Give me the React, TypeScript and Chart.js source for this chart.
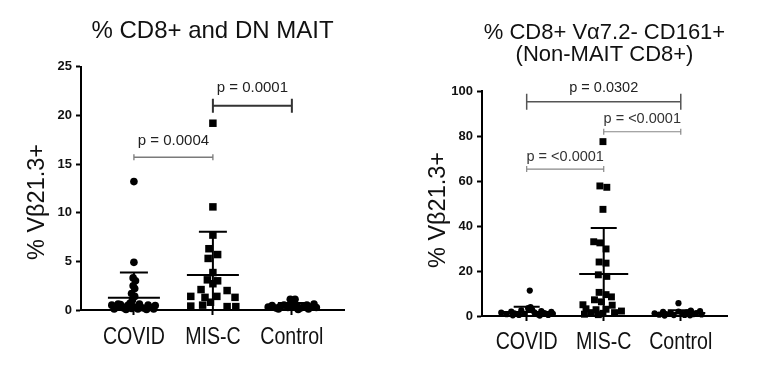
import React, { useEffect, useRef } from "react";
import { Chart, registerables } from "chart.js";
Chart.register(...registerables);

// ---------------- shared ----------------
const categories = ["COVID", "MIS-C", "Control"];
const yAxisTitle = "% V\u03B221.3+";

// ---------------- left panel data ----------------
const leftTitle = "% CD8+ and DN MAIT";
const leftYMax = 25;
const leftYStep = 5;

const leftCovid = [13.2, 4.9, 3.3, 3.0, 2.5, 2.2, 1.7, 1.4, 1.0, 0.7, 0.5, 0.3, 0.55, 0.2, 0.45, 0.15, 0.3, 0.6, 0.2, 0.5, 0.25, 0.45, 0.1, 0.05, 0.1, 0.05, 0.1, 0.6];
const leftCovidJitter = [0, 0, -0.01, 0.02, -0.01, 0.01, -0.03, 0.01, -0.02, -0.05, -0.28, -0.22, -0.17, -0.13, -0.08, -0.03, 0.03, 0.07, 0.12, 0.18, 0.23, 0.27, -0.25, -0.1, 0.05, 0.16, 0.25, -0.2];

const leftMisc = [19.2, 10.6, 7.7, 6.3, 5.7, 5.3, 3.85, 3.1, 3.0, 2.7, 2.1, 2.0, 1.4, 1.3, 1.4, 1.3, 0.8, 0.4, 0.5, 0.35, 0.35];
const leftMiscJitter = [0, 0, 0, -0.05, 0.06, -0.06, 0, -0.07, 0.06, 0, -0.15, 0.18, -0.28, -0.1, 0.05, 0.28, -0.03, -0.28, -0.13, 0.18, 0.29];

const leftControl = [0.3, 0.45, 0.2, 0.35, 0.5, 0.25, 1.1, 1.1, 0.7, 0.3, 0.45, 0.2, 0.35, 0.5, 0.3, 0.6, 0.25, 0.1, 0.05, 0.1];
const leftControlJitter = [-0.3, -0.25, -0.2, -0.15, -0.1, -0.05, -0.02, 0.04, 0, 0.01, 0.06, 0.11, 0.15, 0.19, 0.24, 0.28, 0.31, -0.17, 0.08, 0.21];

const leftMeans = [1.25, 3.6, 0.42];
const leftSDs = [2.6, 4.45, 0.3];

const leftBracketFrom = [0, 1];
const leftBracketTo = [1, 2];
const leftBracketY = [15.7, 21.0];
const leftBracketText = ["p = 0.0004", "p = 0.0001"];

// ---------------- right panel data ----------------
const rightTitle = ["% CD8+ V\u03B17.2- CD161+", "(Non-MAIT CD8+)"];
const rightYMax = 100;
const rightYStep = 20;

const rightCovid = [11.3, 1.5, 0.8, 2.0, 1.2, 0.5, 2.5, 1.0, 3.5, 4.0, 2.8, 1.6, 0.7, 2.2, 1.3, 0.5, 1.8, 0.3, 0.2, 1.0];
const rightCovidJitter = [0.04, -0.33, -0.26, -0.2, -0.16, -0.1, -0.07, -0.03, 0.02, 0.05, 0.07, 0.1, 0.15, 0.19, 0.23, 0.28, 0.32, -0.18, 0.17, 0.34];

const rightMisc = [77.5, 57.8, 57.2, 47.4, 33.0, 32.5, 29.8, 24.0, 23.5, 18.3, 17.6, 10.5, 9.5, 8.5, 7.2, 6.3, 5.0, 4.8, 3.2, 2.8, 3.0, 2.2, 1.5, 1.2, 1.5, 0.6, 0.8];
const rightMiscJitter = [-0.01, -0.05, 0.04, -0.01, -0.13, -0.05, 0.03, -0.06, 0.03, -0.07, 0.04, -0.06, 0.03, 0.1, -0.12, -0.03, -0.27, 0.11, -0.23, -0.1, 0.03, 0.23, -0.16, -0.01, 0.14, -0.07, -0.25];

const rightControl = [5.7, 1.2, 0.6, 1.8, 0.9, 1.4, 0.4, 2.0, 1.0, 0.5, 1.6, 2.4, 0.8, 1.3, 2.2, 0.7, 0.2, 0.3];
const rightControlJitter = [-0.03, -0.34, -0.28, -0.23, -0.19, -0.13, -0.09, -0.03, 0.02, 0.05, 0.08, 0.13, 0.16, 0.2, 0.25, 0.27, -0.21, 0.12];

const rightMeans = [1.8, 18.7, 1.3];
const rightSDs = [2.3, 20.4, 1.3];

const rightBracketFrom = [0, 1, 0];
const rightBracketTo = [2, 2, 1];
const rightBracketY = [95.2, 81.9, 65.3];
const rightBracketText = ["p = 0.0302", "p = <0.0001", "p = <0.0001"];

// ---------------- drawing ----------------
const SANS = "'Liberation Sans', Arial, Helvetica, sans-serif";

type BracketStyle = { color: string; width: number; tick: number; gap: number; font: number; textColor: string };

type Panel = {
  title: string | string[];
  titleSize: number;
  titleLineHeight: number;
  titlePadTop: number;
  titlePadBottom: number;
  yMax: number;
  yStep: number;
  xMin: number;
  xMax: number;
  yWidth: number;
  xHeight: number;
  padRight: number;
  xLabelOffset: number;
  groups: { values: number[]; jitter: number[] }[];
  means: number[];
  sds: number[];
  meanHalf: number;
  capHalf: number;
  circleR: number;
  squareR: number;
  brackets: { from: number; to: number; y: number; label: string }[];
  bracketStyles: BracketStyle[];
  yTitleX: number;
  yTitleY: number;
};

function makeBrackets(from: number[], to: number[], y: number[], text: string[]) {
  return from.map((f, i) => ({ from: f, to: to[i], y: y[i], label: text[i] }));
}

function buildChart(canvas: HTMLCanvasElement, p: Panel) {
  const annot = {
    id: "annot",
    afterDatasetsDraw(chart: any) {
      const ctx = chart.ctx as CanvasRenderingContext2D;
      const xs = chart.scales.x;
      const ys = chart.scales.y;
      const area = chart.chartArea;
      // mean +/- SD
      ctx.save();
      ctx.beginPath();
      ctx.rect(area.left - 40, area.top - 40, area.right - area.left + 80, area.bottom - area.top + 40);
      ctx.clip();
      ctx.strokeStyle = "#000";
      ctx.lineWidth = 2;
      p.means.forEach((m, i) => {
        const cx = xs.getPixelForValue(i);
        const ym = ys.getPixelForValue(m);
        const yt = ys.getPixelForValue(m + p.sds[i]);
        const yb = ys.getPixelForValue(Math.max(0, m - p.sds[i]));
        ctx.beginPath();
        ctx.moveTo(cx - p.meanHalf, ym);
        ctx.lineTo(cx + p.meanHalf, ym);
        ctx.moveTo(cx, yt);
        ctx.lineTo(cx, yb);
        ctx.moveTo(cx - p.capHalf, yt);
        ctx.lineTo(cx + p.capHalf, yt);
        ctx.stroke();
      });
      ctx.restore();
      // brackets
      ctx.save();
      p.brackets.forEach((b, i) => {
        const st = p.bracketStyles[i];
        const x1 = xs.getPixelForValue(b.from);
        const x2 = xs.getPixelForValue(b.to);
        const y = ys.getPixelForValue(b.y);
        ctx.strokeStyle = st.color;
        ctx.lineWidth = st.width;
        ctx.beginPath();
        ctx.moveTo(x1, y);
        ctx.lineTo(x2, y);
        ctx.moveTo(x1, y - st.tick);
        ctx.lineTo(x1, y + st.tick);
        ctx.moveTo(x2, y - st.tick);
        ctx.lineTo(x2, y + st.tick);
        ctx.stroke();
        ctx.fillStyle = st.textColor;
        ctx.font = `${st.font}px ${SANS}`;
        ctx.textAlign = "center";
        ctx.textBaseline = "middle";
        ctx.fillText(b.label, (x1 + x2) / 2, y - st.gap);
      });
      ctx.restore();
    },
    afterDraw(chart: any) {
      const ctx = chart.ctx as CanvasRenderingContext2D;
      const xs = chart.scales.x;
      const area = chart.chartArea;
      // y axis title
      ctx.save();
      ctx.translate(p.yTitleX, p.yTitleY);
      ctx.rotate(-Math.PI / 2);
      ctx.fillStyle = "#111";
      ctx.font = `23.5px ${SANS}`;
      ctx.textAlign = "center";
      ctx.textBaseline = "middle";
      ctx.fillText(yAxisTitle, 0, 0);
      ctx.restore();
      // condensed category labels, placed on the library's x scale
      categories.forEach((c, i) => {
        ctx.save();
        ctx.translate(xs.getPixelForValue(i), area.bottom + p.xLabelOffset);
        ctx.scale(0.8, 1);
        ctx.fillStyle = "#111";
        ctx.font = `24.5px ${SANS}`;
        ctx.textAlign = "center";
        ctx.textBaseline = "middle";
        ctx.fillText(c, 0, 0);
        ctx.restore();
      });
    },
  };

  const datasets = p.groups.map((g, i) => ({
    label: categories[i],
    data: g.values.map((v, k) => ({ x: i + g.jitter[k], y: v })),
    pointStyle: i === 1 ? "rect" : "circle",
    pointRadius: i === 1 ? p.squareR : p.circleR,
    pointBackgroundColor: "#000",
    pointBorderColor: "#000",
    pointBorderWidth: 0,
    showLine: false,
    clip: false as any,
  }));

  const gridCommon = {
    drawOnChartArea: false,
    drawTicks: true,
    tickLength: 5,
    tickWidth: 2,
    tickColor: "#000",
  };

  return new Chart(canvas, {
    type: "scatter",
    data: { datasets: datasets as any },
    plugins: [annot as any],
    options: {
      responsive: false,
      animation: false,
      layout: { padding: { left: 0, right: p.padRight, top: 0, bottom: 0 } },
      plugins: {
        legend: { display: false },
        tooltip: { enabled: false },
        title: {
          display: true,
          text: p.title as any,
          fullSize: false,
          color: "#111",
          font: { family: SANS, size: p.titleSize, weight: "normal" as any, lineHeight: p.titleLineHeight },
          padding: { top: p.titlePadTop, bottom: p.titlePadBottom },
        },
      },
      scales: {
        x: {
          type: "linear",
          min: p.xMin,
          max: p.xMax,
          afterBuildTicks: (s: any) => {
            s.ticks = categories.map((_, i) => ({ value: i }));
          },
          afterFit: (s: any) => {
            s.height = p.xHeight;
          },
          ticks: {
            callback: (v: any) => categories[Math.round(Number(v))],
            color: "rgba(0,0,0,0)",
            font: { family: SANS, size: 12 },
            maxRotation: 0,
            autoSkip: false,
          },
          grid: gridCommon,
          border: { display: true, color: "#000", width: 2 },
        },
        y: {
          min: 0,
          max: p.yMax,
          afterFit: (s: any) => {
            s.width = p.yWidth;
          },
          ticks: {
            stepSize: p.yStep,
            color: "#111",
            font: { family: SANS, size: 13, weight: "bold" as any },
            padding: 4,
          },
          grid: gridCommon,
          border: { display: true, color: "#000", width: 2 },
        },
      },
    },
  });
}

const leftPanel: Panel = {
  title: leftTitle,
  titleSize: 24,
  titleLineHeight: 1.2,
  titlePadTop: 17,
  titlePadBottom: 21,
  yMax: leftYMax,
  yStep: leftYStep,
  xMin: -0.67,
  xMax: 2.66,
  yWidth: 81,
  xHeight: 64,
  padRight: 39,
  xLabelOffset: 27,
  groups: [
    { values: leftCovid, jitter: leftCovidJitter },
    { values: leftMisc, jitter: leftMiscJitter },
    { values: leftControl, jitter: leftControlJitter },
  ],
  means: leftMeans,
  sds: leftSDs,
  meanHalf: 26,
  capHalf: 14,
  circleR: 3.8,
  squareR: 5.3,
  brackets: makeBrackets(leftBracketFrom, leftBracketTo, leftBracketY, leftBracketText),
  bracketStyles: [
    { color: "#7a7a7a", width: 1.3, tick: 3, gap: 16, font: 15, textColor: "#222" },
    { color: "#333", width: 2, tick: 7, gap: 18, font: 15, textColor: "#222" },
  ],
  yTitleX: 38,
  yTitleY: 202,
};

const rightPanel: Panel = {
  title: rightTitle,
  titleSize: 22,
  titleLineHeight: 1.0,
  titlePadTop: 22,
  titlePadBottom: 25,
  yMax: rightYMax,
  yStep: rightYStep,
  xMin: -0.58,
  xMax: 2.6,
  yWidth: 99,
  xHeight: 58,
  padRight: 40,
  xLabelOffset: 26,
  groups: [
    { values: rightCovid, jitter: rightCovidJitter },
    { values: rightMisc, jitter: rightMiscJitter },
    { values: rightControl, jitter: rightControlJitter },
  ],
  means: rightMeans,
  sds: rightSDs,
  meanHalf: 24.5,
  capHalf: 13,
  circleR: 3.1,
  squareR: 4.9,
  brackets: makeBrackets(rightBracketFrom, rightBracketTo, rightBracketY, rightBracketText),
  bracketStyles: [
    { color: "#555", width: 1.5, tick: 8, gap: 14, font: 14.5, textColor: "#222" },
    { color: "#888", width: 1.2, tick: 3, gap: 12.5, font: 14.5, textColor: "#333" },
    { color: "#888", width: 1.2, tick: 3, gap: 12, font: 14.5, textColor: "#333" },
  ],
  yTitleX: 56,
  yTitleY: 210,
};

export default function App() {
  const leftRef = useRef<HTMLCanvasElement | null>(null);
  const rightRef = useRef<HTMLCanvasElement | null>(null);

  useEffect(() => {
    const charts: Chart[] = [];
    if (leftRef.current) charts.push(buildChart(leftRef.current, leftPanel));
    if (rightRef.current) charts.push(buildChart(rightRef.current, rightPanel));
    return () => charts.forEach((c) => c.destroy());
  }, []);

  return (
    <div style={{ position: "absolute", left: 0, top: 0, width: 767, height: 374, background: "#fff" }}>
      <canvas ref={leftRef} width={383} height={374} style={{ position: "absolute", left: 0, top: 0, width: 383, height: 374 }} />
      <canvas ref={rightRef} width={384} height={374} style={{ position: "absolute", left: 383, top: 0, width: 384, height: 374 }} />
    </div>
  );
}
